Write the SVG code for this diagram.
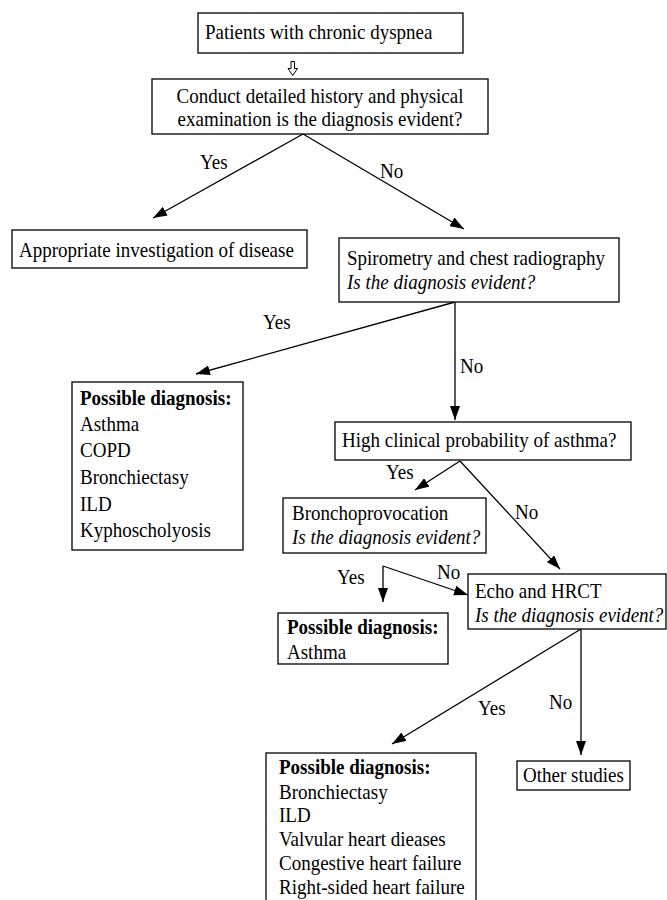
<svg xmlns="http://www.w3.org/2000/svg" width="667" height="900" viewBox="0 0 667 900">
<style>
  .box { fill: #ffffff; stroke: #000000; stroke-width: 1.3; }
  .t { font-family: "Liberation Serif", "Times New Roman", serif; font-size: 22px; fill: #000000; }
  .i { font-style: italic; }
  .b { font-weight: bold; }
  .c { text-anchor: middle; }
  .ln { stroke: #000000; stroke-width: 1.3; fill: none; marker-end: url(#ah); }
</style>
<defs>
  <marker id="ah" markerWidth="14" markerHeight="10" refX="14" refY="5" orient="auto" markerUnits="userSpaceOnUse">
    <path d="M0,0 L14,5 L0,10 z" fill="#000000"/>
  </marker>
</defs>
<rect width="667" height="900" fill="#ffffff"/>

<g id="connectors">
  <polygon points="291,61.5 294.5,61.5 294.5,68.5 297.5,68.5 292.75,75.5 288,68.5 291,68.5" fill="#ffffff" stroke="#000000" stroke-width="1"/>
  <line class="ln" x1="303" y1="134" x2="153" y2="218"/>
  <line class="ln" x1="303" y1="134" x2="464" y2="229"/>
  <line class="ln" x1="455" y1="302" x2="196" y2="374"/>
  <line class="ln" x1="455" y1="302" x2="455" y2="420"/>
  <line class="ln" x1="460" y1="461" x2="415" y2="490"/>
  <line class="ln" x1="460" y1="461" x2="560" y2="569"/>
  <line class="ln" x1="383" y1="566" x2="383" y2="602"/>
  <line class="ln" x1="383" y1="566" x2="468" y2="595"/>
  <line class="ln" x1="581" y1="629" x2="392" y2="744"/>
  <line class="ln" x1="581" y1="629" x2="581" y2="755"/>
  <text class="t" transform="translate(200,169) scale(0.864,1)">Yes</text>
  <text class="t" transform="translate(380,178) scale(0.864,1)">No</text>
  <text class="t" transform="translate(263,329) scale(0.864,1)">Yes</text>
  <text class="t" transform="translate(460,373) scale(0.864,1)">No</text>
  <text class="t" transform="translate(386,479) scale(0.864,1)">Yes</text>
  <text class="t" transform="translate(515,519) scale(0.864,1)">No</text>
  <text class="t" transform="translate(337,584) scale(0.864,1)">Yes</text>
  <text class="t" transform="translate(437,579) scale(0.864,1)">No</text>
  <text class="t" transform="translate(478,715) scale(0.864,1)">Yes</text>
  <text class="t" transform="translate(549,709) scale(0.864,1)">No</text>
</g>

<g id="start">
  <rect class="box" x="198" y="13" width="265" height="40"/>
  <text class="t" transform="translate(205,39) scale(0.864,1)">Patients with chronic dyspnea</text>
</g>

<g id="history">
  <rect class="box" x="152" y="79" width="336" height="55"/>
  <text class="t c" transform="translate(320,103) scale(0.864,1)">Conduct detailed history and physical</text>
  <text class="t c" transform="translate(320,126) scale(0.864,1)">examination is the diagnosis evident?</text>
</g>

<g id="appropriate">
  <rect class="box" x="12" y="230" width="295" height="38"/>
  <text class="t" transform="translate(19,257) scale(0.864,1)">Appropriate investigation of disease</text>
</g>

<g id="spirometry">
  <rect class="box" x="339" y="238" width="280" height="64"/>
  <text class="t" transform="translate(347,265) scale(0.864,1)">Spirometry and chest radiography</text>
  <text class="t i" transform="translate(347,289) scale(0.864,1)">Is the diagnosis evident?</text>
</g>

<g id="possible1">
  <rect class="box" x="72" y="382" width="171" height="168"/>
  <text class="t b" transform="translate(80,405) scale(0.864,1)">Possible diagnosis:</text>
  <text class="t" transform="translate(80,431) scale(0.864,1)">Asthma</text>
  <text class="t" transform="translate(80,457) scale(0.864,1)">COPD</text>
  <text class="t" transform="translate(80,484) scale(0.864,1)">Bronchiectasy</text>
  <text class="t" transform="translate(80,511) scale(0.864,1)">ILD</text>
  <text class="t" transform="translate(80,537) scale(0.864,1)">Kyphoscholyosis</text>
</g>

<g id="asthma-probability">
  <rect class="box" x="335" y="422" width="296" height="38"/>
  <text class="t" transform="translate(342,447) scale(0.864,1)">High clinical probability of asthma?</text>
</g>

<g id="bronchoprovocation">
  <rect class="box" x="283" y="498" width="203" height="55"/>
  <text class="t" transform="translate(292,520) scale(0.864,1)">Bronchoprovocation</text>
  <text class="t i" transform="translate(292,544) scale(0.864,1)">Is the diagnosis evident?</text>
</g>

<g id="possible-asthma">
  <rect class="box" x="278" y="613" width="170" height="51"/>
  <text class="t b" transform="translate(287,634) scale(0.864,1)">Possible diagnosis:</text>
  <text class="t" transform="translate(287,659) scale(0.864,1)">Asthma</text>
</g>

<g id="echo">
  <rect class="box" x="468" y="574" width="198" height="55"/>
  <text class="t" transform="translate(475,598) scale(0.864,1)">Echo and HRCT</text>
  <text class="t i" transform="translate(475,622) scale(0.864,1)">Is the diagnosis evident?</text>
</g>

<g id="other">
  <rect class="box" x="517" y="761" width="113" height="29"/>
  <text class="t" transform="translate(523,782) scale(0.864,1)">Other studies</text>
</g>

<g id="possible2">
  <rect class="box" x="266" y="753" width="210" height="160"/>
  <text class="t b" transform="translate(279,774) scale(0.864,1)">Possible diagnosis:</text>
  <text class="t" transform="translate(279,799) scale(0.864,1)">Bronchiectasy</text>
  <text class="t" transform="translate(279,822) scale(0.864,1)">ILD</text>
  <text class="t" transform="translate(279,846) scale(0.864,1)">Valvular heart dieases</text>
  <text class="t" transform="translate(279,870) scale(0.864,1)">Congestive heart failure</text>
  <text class="t" transform="translate(279,894) scale(0.864,1)">Right-sided heart failure</text>
</g>
</svg>
